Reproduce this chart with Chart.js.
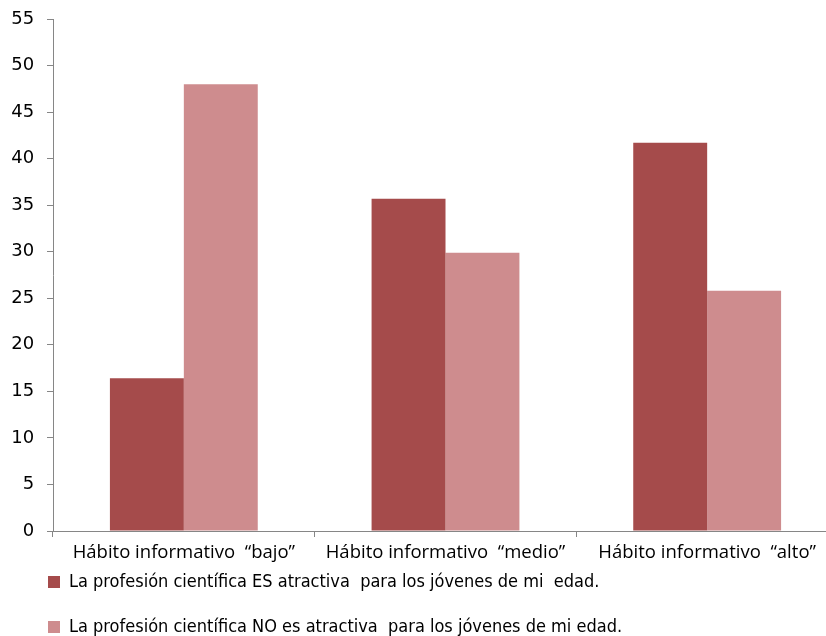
<!DOCTYPE html>
<html>
<head>
<meta charset="utf-8">
<script src="https://cdn.jsdelivr.net/npm/chart.js@4.4.0/dist/chart.umd.min.js"></script>
<style>
  html, body { margin:0; padding:0; background:#fff; overflow:hidden; }
  #wrap { width:826px; height:636px; overflow:hidden; }
</style>
</head>
<body>
<div id="wrap"><canvas id="chart" width="850" height="671"></canvas></div>
<script>
const CATEGORIES = ['Hábito informativo  “bajo”', 'Hábito informativo  “medio”', 'Hábito informativo  “alto”'];
const SERIES_ES = [16.4, 35.7, 41.7];
const SERIES_NO = [48.0, 29.9, 25.8];
const LABEL_ES = 'La profesión científica ES atractiva  para los jóvenes de mi  edad.';
const LABEL_NO = 'La profesión científica NO es atractiva  para los jóvenes de mi edad.';
const Y_TICKS = [0, 5, 10, 15, 20, 25, 30, 35, 40, 45, 50, 55];

const NARROW = '"Liberation Sans Narrow", "DejaVu Sans Condensed", "Liberation Sans", sans-serif';
const AXIS_GREY = '#868686';

// legend sits closer to the axis labels and further right than Chart.js would place it
const legendNudge = {
  id: 'legendNudge',
  afterLayout(chart) {
    const lg = chart.legend;
    const h = lg.bottom - lg.top;
    lg.top = chart.chartArea.bottom + 15;
    lg.bottom = lg.top + h;
    lg.left += 21;
    lg.right += 21;
  }
};

new Chart(document.getElementById('chart'), {
  type: 'bar',
  data: {
    labels: CATEGORIES,
    datasets: [
      {label: LABEL_ES, data: SERIES_ES, backgroundColor: '#A54B4B', categoryPercentage: 0.565, barPercentage: 1},
      {label: LABEL_NO, data: SERIES_NO, backgroundColor: '#CE8C8E', categoryPercentage: 0.565, barPercentage: 1}
    ]
  },
  options: {
    responsive: false,
    devicePixelRatio: 1,
    animation: false,
    layout: {padding: {top: 19, left: 0, right: 12, bottom: 0}},
    scales: {
      x: {
        grid: {display: true, drawOnChartArea: false, tickLength: 6, color: AXIS_GREY, offset: true},
        border: {color: AXIS_GREY},
        ticks: {color: '#000', font: {family: '"Open Sans"', size: 18.5}, maxRotation: 0, padding: 5},
        afterFit: s => { s.height = 40; }
      },
      y: {
        min: 0, max: 55,
        afterBuildTicks: s => { s.ticks = Y_TICKS.map(v => ({value: v})); },
        grid: {display: true, drawOnChartArea: false, tickLength: 6, color: AXIS_GREY},
        border: {color: AXIS_GREY},
        // small tick padding keeps the plot top at 19px; the trailing space sets the gap instead
        ticks: {color: '#000', font: {family: '"DejaVu Sans"', size: 18}, padding: 7, callback: v => v + ' '},
        afterFit: s => { s.width = 53; }
      }
    },
    plugins: {
      legend: {
        position: 'bottom',
        align: 'start',
        labels: {
          boxWidth: 12, boxHeight: 12, padding: 27,
          color: '#000', font: {family: NARROW, size: 18}
        }
      },
      tooltip: {enabled: false}
    }
  },
  plugins: [legendNudge]
});
</script>
</body>
</html>
